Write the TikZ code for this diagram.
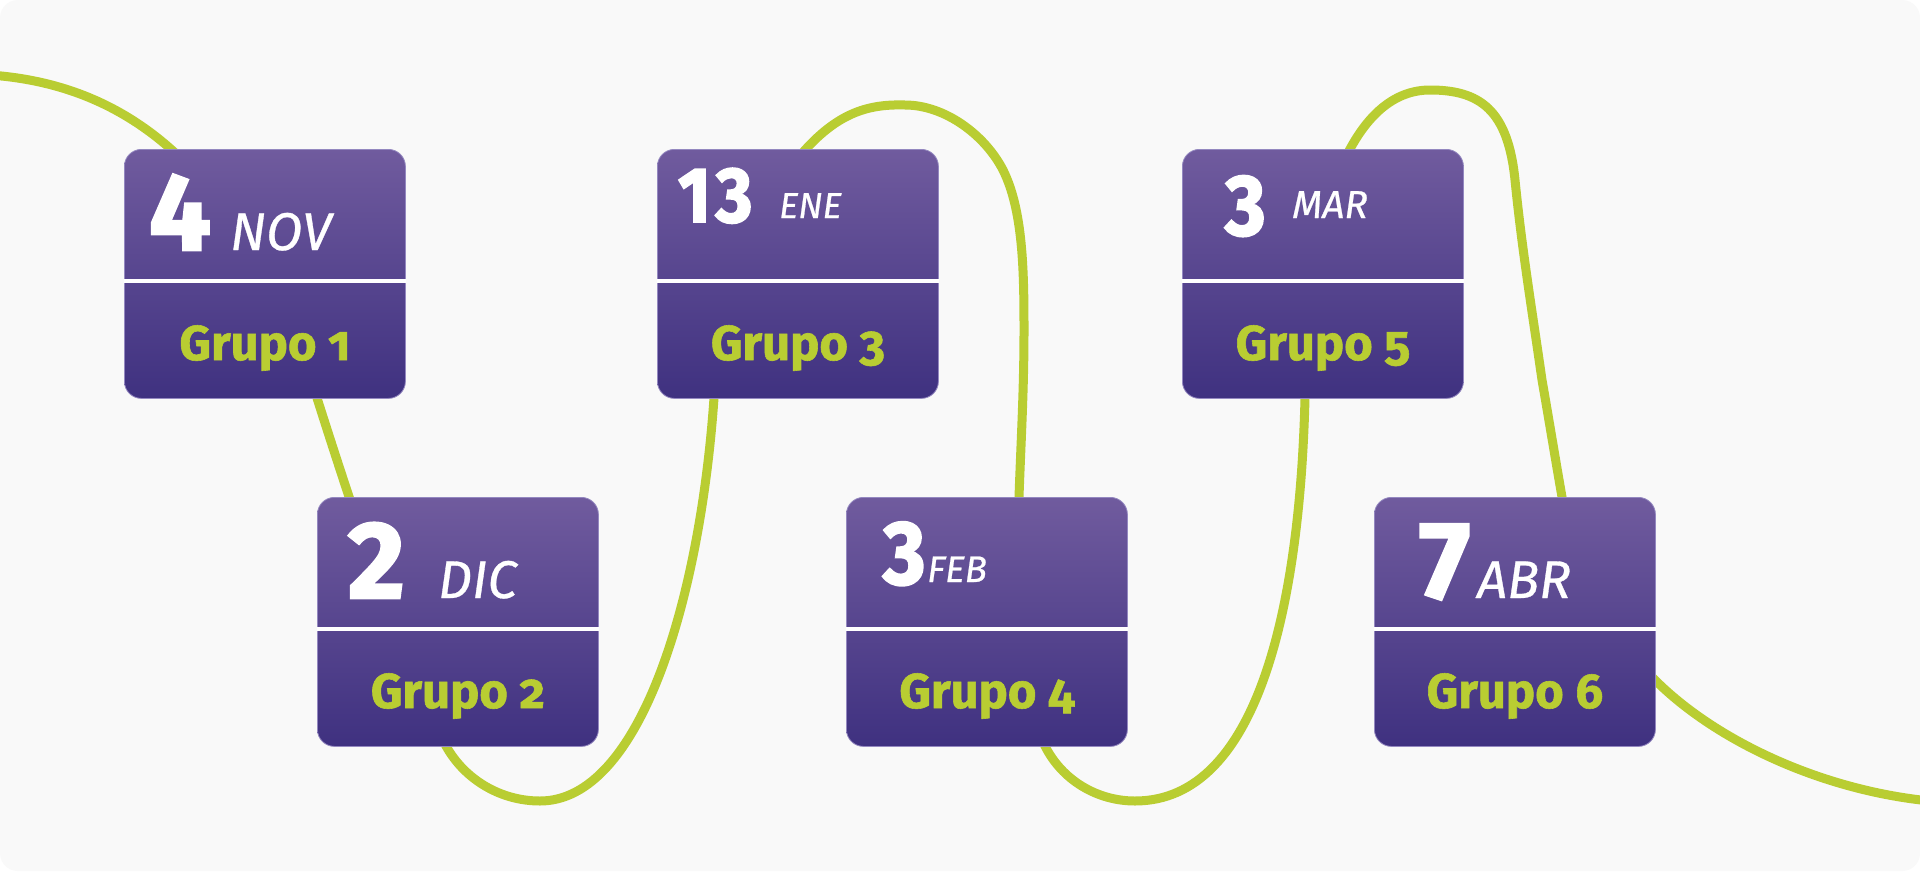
\documentclass[tikz,border=0pt]{standalone}
\usepackage{fontspec}
\setmainfont{Fira Sans}
\newfontfamily\numfont{Fira Sans}[Numbers={Proportional,Lining}, BoldFeatures={FakeBold=2.5}]
\newfontfamily\numnarrow{Fira Sans}[Numbers={Proportional,Lining}, BoldFeatures={FakeBold=2.5, FakeStretch=0.9}]
\newfontfamily\grpfont{Fira Sans}[Numbers=OldStyle, BoldFeatures={FakeBold=1.2}]
\newfontfamily\monfont{Fira Sans}[ItalicFeatures={FakeBold=0.6}]
\usetikzlibrary{calc}
\definecolor{bgc}{HTML}{F9F9F9}
\definecolor{grn}{HTML}{B9CD32}
\definecolor{cardtop}{HTML}{705B9E}
\definecolor{cardbot}{HTML}{3F3180}
\definecolor{cardedge}{HTML}{9488C0}
\tikzset{
  card/.style={rectangle, rounded corners=17pt, minimum width=281pt, minimum height=249pt,
    inner sep=0pt, top color=cardtop, bottom color=cardbot, draw=cardedge, line width=0.8pt,
    anchor=north west},
  divider/.style={draw=white, line width=4pt},
  curve/.style={draw=grn, line width=9pt},
  num/.style={text=white, font=\fontsize{109}{109}\selectfont\numfont\bfseries, inner sep=0pt, anchor=base west},
  numn/.style={text=white, font=\fontsize{#1}{#1}\selectfont\numnarrow\bfseries, inner sep=0pt, anchor=base west},
  mon/.style={text=white, font=\fontsize{53}{53}\selectfont\monfont\itshape, inner sep=0pt, anchor=base west},
  monsm/.style={text=white, font=\fontsize{#1}{#1}\selectfont\monfont\itshape, inner sep=0pt, anchor=base west},
  grp/.style={text=grn, font=\fontsize{49}{49}\selectfont\grpfont\bfseries, inner sep=0pt, anchor=base},
}
\begin{document}
\begin{tikzpicture}[x=1pt,y=-1pt]
\useasboundingbox (0,0) rectangle (1920,873);
\fill[white] (0,0) rectangle (1920,873);
\fill[bgc, rounded corners=18pt] (0,0) rectangle (1920,871);
% key points of the timeline curve
\coordinate (k0) at (-10,75);
\coordinate (k1) at (317,398);
\coordinate (k2) at (446,746);
\coordinate (k3) at (540,801);
\coordinate (k5) at (714,398);
\coordinate (k6) at (805,150);
\coordinate (k7) at (905,105);
\coordinate (k8) at (1003,170);
\coordinate (k9) at (1024,330);
\coordinate (k10) at (1019,497);
\coordinate (k11) at (1045,746);
\coordinate (k12) at (1135,801);
\coordinate (k13) at (1305,398);
\coordinate (k14) at (1350,149);
\coordinate (k15) at (1430,90);
\coordinate (k16) at (1515,180);
\coordinate (k17) at (1542,380);
\coordinate (k18) at (1562,497);
\coordinate (k19) at (1655,680);
\coordinate (k20) at (1930,801);
\draw[curve] (k0)
  .. controls (130,85) and (240,170) .. (k1)
  .. controls (352,508) and (407,676) .. (k2)
  .. controls (465,780) and (501,801) .. (k3)
  .. controls (640,801) and (700,600) .. (k5)
  .. controls (721,298) and (765,194) .. (k6)
  .. controls (840,111.5) and (870,104) .. (k7)
  .. controls (945,105) and (985,135) .. (k8)
  .. controls (1023,210) and (1024,270) .. (k9)
  .. controls (1024,390) and (1021,440) .. (k10)
  .. controls (1017,580) and (1014,686) .. (k11)
  .. controls (1062,780) and (1097,801) .. (k12)
  .. controls (1260,801) and (1300,600) .. (k13)
  .. controls (1310,300) and (1317,209) .. (k14)
  .. controls (1369,114) and (1395,90) .. (k15)
  .. controls (1480,90) and (1508,110) .. (k16)
  .. controls (1522,250) and (1532,310) .. (k17)
  .. controls (1549,420) and (1555,457) .. (k18)
  .. controls (1576,577) and (1615,640) .. (k19)
  .. controls (1715,740) and (1820,790) .. (k20);
% cards
\node[card] (c1) at (124,149) {};
\node[card] (c2) at (317,497) {};
\node[card] (c3) at (657,149) {};
\node[card] (c4) at (846,497) {};
\node[card] (c5) at (1182,149) {};
\node[card] (c6) at (1374,497) {};
\foreach \c in {c1,c2,c3,c4,c5,c6}{
  \draw[divider] ($(\c.north west)+(0,132)$) -- ($(\c.north east)+(0,132)$);
}
% dates
\node[num] (n1) at ($(c1.north west)+(25,101)$) {4};
\node[mon] (m1) at ($(c1.north west)+(106,101)$) {NOV};
\node[num] (n2) at ($(c2.north west)+(31,101)$) {2};
\node[mon] (m2) at ($(c2.north west)+(121,101)$) {DIC};
\node[numn=78] (n3) at ($(c3.north west)+(21,73)$) {1\kern5pt3};
\node[monsm=36] (m3) at ($(c3.north west)+(122,69)$) {ENE};
\node[numn=90] (n4) at ($(c4.north west)+(37,87)$) {3};
\node[monsm=37] (m4) at ($(c4.north west)+(81,85)$) {FEB};
\node[numn=86] (n5) at ($(c5.north west)+(43,86)$) {3};
\node[monsm=39] (m5) at ($(c5.north west)+(110,69)$) {MAR};
\node[num] (n6) at ($(c6.north west)+(45,101)$) {7};
\node[mon] (m6) at ($(c6.north west)+(103,101)$) {ABR};
% groups
\node[grp] (g1) at ($(c1.north)+(0,211)$) {Grupo 1};
\node[grp] (g2) at ($(c2.north)+(0,211)$) {Grupo 2};
\node[grp] (g3) at ($(c3.north)+(0,211)$) {Grupo 3};
\node[grp] (g4) at ($(c4.north)+(0,211)$) {Grupo 4};
\node[grp] (g5) at ($(c5.north)+(0,211)$) {Grupo 5};
\node[grp] (g6) at ($(c6.north)+(0,211)$) {Grupo 6};
\end{tikzpicture}
\end{document}
